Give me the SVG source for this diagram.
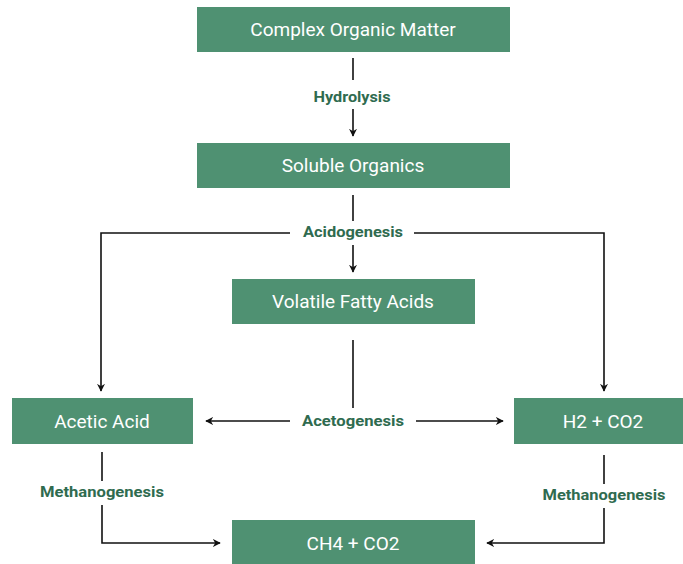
<svg xmlns="http://www.w3.org/2000/svg" width="683" height="564" viewBox="0 0 683 564">
<style>
.box{fill:#4f9172}
.t{fill:#ffffff;font-family:Roboto,"Open Sans",sans-serif;font-size:19px;text-anchor:middle;dominant-baseline:central}
.lb{fill:#2f6b4f;font-family:Roboto,"Liberation Sans",sans-serif;font-size:15.5px;font-weight:bold;text-anchor:middle;dominant-baseline:central}
.c{fill:none;stroke:#111;stroke-width:1.6}
</style>
<defs>
<marker id="ah" viewBox="0 0 10 10" refX="9" refY="5" markerWidth="5" markerHeight="5" orient="auto" markerUnits="strokeWidth">
<path d="M0,0 L10,5 L0,10 L3,5 Z" fill="#111"/>
</marker>
</defs>
<rect width="683" height="564" fill="#ffffff"/>
<g id="connectors">
<line class="c" x1="353" y1="58" x2="353" y2="80"/>
<line class="c" x1="353" y1="109" x2="353" y2="136" marker-end="url(#ah)"/>
<line class="c" x1="353" y1="195" x2="353" y2="221"/>
<line class="c" x1="353" y1="245" x2="353" y2="272" marker-end="url(#ah)"/>
<polyline class="c" points="290,233 101,233 101,391" marker-end="url(#ah)"/>
<polyline class="c" points="414,233 604,233 604,391" marker-end="url(#ah)"/>
<line class="c" x1="353" y1="340" x2="353" y2="408"/>
<line class="c" x1="290" y1="421" x2="206" y2="421" marker-end="url(#ah)"/>
<line class="c" x1="416" y1="421" x2="503" y2="421" marker-end="url(#ah)"/>
<line class="c" x1="102" y1="452" x2="102" y2="481"/>
<polyline class="c" points="102,505 102,543 220,543" marker-end="url(#ah)"/>
<line class="c" x1="604" y1="455" x2="604" y2="484"/>
<polyline class="c" points="604,508 604,543 487,543" marker-end="url(#ah)"/>
</g>
<g id="labels">
<text class="lb" x="352" y="97" textLength="77" lengthAdjust="spacingAndGlyphs">Hydrolysis</text>
<text class="lb" x="353" y="232" textLength="100" lengthAdjust="spacingAndGlyphs">Acidogenesis</text>
<text class="lb" x="353" y="421" textLength="102" lengthAdjust="spacingAndGlyphs">Acetogenesis</text>
<text class="lb" x="102" y="492" textLength="124" lengthAdjust="spacingAndGlyphs">Methanogenesis</text>
<text class="lb" x="604" y="495" textLength="123" lengthAdjust="spacingAndGlyphs">Methanogenesis</text>
</g>
<g id="n1"><rect class="box" x="197" y="7" width="313" height="45"/><text class="t" x="353" y="29">Complex Organic Matter</text></g>
<g id="n2"><rect class="box" x="197" y="143" width="313" height="45"/><text class="t" x="353" y="165">Soluble Organics</text></g>
<g id="n3"><rect class="box" x="232" y="279" width="243" height="45"/><text class="t" x="353" y="301">Volatile Fatty Acids</text></g>
<g id="n4"><rect class="box" x="12" y="398" width="181" height="46"/><text class="t" x="102" y="421">Acetic Acid</text></g>
<g id="n5"><rect class="box" x="514" y="398" width="169" height="46"/><text class="t" x="603" y="421">H2 + CO2</text></g>
<g id="n6"><rect class="box" x="232" y="520" width="243" height="44"/><text class="t" x="353" y="543">CH4 + CO2</text></g>
</svg>
